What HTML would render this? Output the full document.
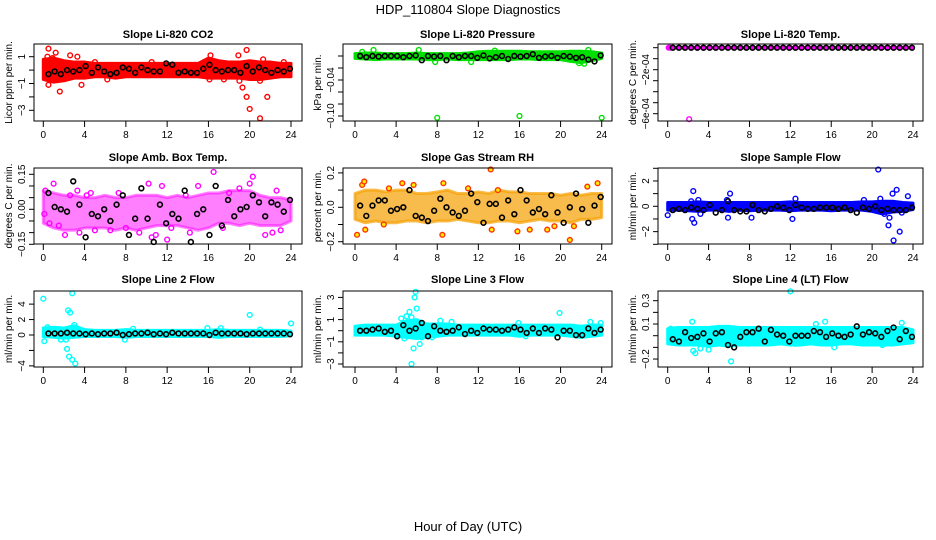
<!DOCTYPE html>
<html><head><meta charset="utf-8"><style>
body{margin:0;background:#fff}
svg{display:block;font-family:"Liberation Sans",sans-serif}
</style></head><body>
<svg id="c" width="936" height="540" xmlns="http://www.w3.org/2000/svg">
<text x="468" y="14" font-size="13" text-anchor="middle">HDP_110804  Slope Diagnostics</text>
<text x="468" y="531" font-size="13" text-anchor="middle">Hour of Day (UTC)</text>
</svg>
<script>
const blkHours=[0.5,1.1,1.7,2.3,2.9,3.5,4.1,4.7,5.3,5.9,6.5,7.1,7.7,8.3,8.9,9.5,10.1,10.7,11.3,11.9,12.5,13.1,13.7,14.3,14.9,15.5,16.1,16.7,17.3,17.9,18.5,19.1,19.7,20.3,20.9,21.5,22.1,22.7,23.3,23.9];
const bandHours=[0,1,2,3,4,5,6,7,8,9,10,11,12,13,14,15,16,17,18,19,20,21,22,23,24];

// Panel 1 CO2
const p1Hi=[0.8,0.9,0.7,0.6,0.6,0.5,0.5,0.5,0.5,0.5,0.5,0.5,0.5,0.5,0.5,0.5,0.9,0.7,0.6,0.6,0.7,0.6,0.6,0.5,0.5];
const p1Lo=[-0.7,-0.9,-0.8,-0.6,-0.6,-0.5,-0.5,-0.6,-0.5,-0.5,-0.5,-0.5,-0.5,-0.5,-0.5,-0.5,-0.6,-0.6,-0.6,-0.6,-0.7,-0.7,-0.6,-0.5,-0.5];
const p1OutX=[0.5,0.4,0.9,1.2,0.5,1.6,2.6,3.3,3.7,6.2,16.2,16.1,18.9,19.7,19.0,19.3,19.7,20.0,21.0,21.7,21.0,21.3,17.5,23.3,5.0,10.5];
const p1OutY=[1.6,1.0,0.9,1.3,-1.1,-1.6,1.1,1.0,-1.1,-0.7,1.1,-0.7,1.1,1.5,-0.8,-1.3,-2.0,-2.9,-3.6,-2.0,-0.8,0.8,-0.7,0.6,0.6,0.6];
const p1Blk=[-0.3,-0.1,-0.3,0.0,-0.1,0.0,0.3,-0.2,0.2,-0.1,-0.3,-0.2,0.2,0.1,-0.2,0.2,0.0,-0.1,-0.1,0.5,0.4,-0.2,-0.1,-0.2,-0.2,0.1,0.4,0.0,-0.1,0.0,0.0,-0.2,0.3,-0.1,0.2,0.0,-0.2,0.0,-0.1,0.1];
// Panel 2 Pressure
const p2Hi=[0.004,0.005,0.005,0.004,0.004,0.004,0.005,0.004,0.004,0.004,0.004,0.005,0.007,0.008,0.008,0.008,0.008,0.007,0.007,0.007,0.007,0.008,0.008,0.007,0.005];
const p2Lo=[-0.004,-0.005,-0.006,-0.005,-0.005,-0.005,-0.005,-0.006,-0.006,-0.005,-0.006,-0.006,-0.006,-0.006,-0.006,-0.006,-0.005,-0.005,-0.006,-0.006,-0.006,-0.009,-0.011,-0.008,-0.004];
const p2OutX=[8,16,24,1.8,6.2,22.7,21.8,22.3,11.3,7.8,0.7,13.6];
const p2OutY=[-0.103,-0.1,-0.103,0.01,0.01,0.01,-0.012,-0.013,-0.01,-0.01,0.007,0.009];
const p2Blk=[0,-0.002,0,-0.001,0,0,0,-0.002,0,0.001,-0.007,0,-0.001,0,-0.007,0,-0.002,0,0,-0.003,0.001,-0.004,-0.002,0,-0.005,0,-0.001,0,0.003,-0.003,-0.001,0,-0.003,0,-0.001,-0.003,-0.002,-0.006,-0.009,0.001];
// Panel 3 Temp
const p3Hi=[0.000003,0.000003,0.000003,0.000003,0.000003,0.000003,0.000003,0.000003,0.000003,0.000003,0.000003,0.000003,0.000003,0.000003,0.000003,0.000003,0.000003,0.000003,0.000003,0.000003,0.000003,0.000003,0.000003,0.000003,0.000003];
const p3Lo=[-0.000003,-0.000003,-0.000003,-0.000003,-0.000003,-0.000003,-0.000003,-0.000003,-0.000003,-0.000003,-0.000003,-0.000003,-0.000003,-0.000003,-0.000003,-0.000003,-0.000003,-0.000003,-0.000003,-0.000003,-0.000003,-0.000003,-0.000003,-0.000003,-0.000003];
const p3OutX=[2.1,0.1,0.2];
const p3OutY=[-0.00065,0,0];
const p3Blk=[0,0,0,0,0,0,0,0,0,0,0,0,0,0,0,0,0,0,0,0,0,0,0,0,0,0,0,0,0,0,0,0,0,0,0,0,0,0,0,0];
// Panel 4 Amb box temp
const p4Hi=[0.08,0.07,0.06,0.06,0.05,0.05,0.06,0.05,0.05,0.06,0.06,0.06,0.05,0.06,0.05,0.06,0.07,0.07,0.08,0.08,0.08,0.06,0.05,0.05,0.04];
const p4Lo=[-0.06,-0.08,-0.09,-0.09,-0.08,-0.08,-0.08,-0.09,-0.08,-0.09,-0.08,-0.07,-0.07,-0.07,-0.08,-0.09,-0.08,-0.06,-0.06,-0.07,-0.06,-0.07,-0.07,-0.07,-0.05];
const p4OutX=[0.2,0.6,1.0,1.5,2.1,3.3,3.5,4.2,5.0,10.2,10.5,10.9,11.5,12.0,12.4,13.8,16.5,18.0,20.3,20.0,21.5,22.2,22.6,23.0,8.0,6.5,15.0,0.1,7.3,9.3,14.2,19.0,17.4,4.6,2.6];
const p4OutY=[0.08,-0.06,0.11,-0.07,-0.11,0.08,-0.10,0.06,-0.09,0.11,-0.12,-0.11,0.1,-0.13,-0.08,0.06,0.16,0.07,0.14,0.11,-0.11,-0.10,0.08,-0.09,-0.08,-0.09,0.1,-0.02,0.07,-0.10,-0.10,0.09,-0.08,0.07,0.06];
const p4Blk=[0.07,0.01,0.0,-0.01,0.12,0.02,-0.12,-0.02,-0.03,0.0,-0.05,0.02,0.06,-0.11,-0.04,0.09,-0.04,-0.14,0.02,-0.06,-0.02,-0.04,0.08,-0.14,-0.02,0.0,-0.11,0.10,-0.07,0.04,-0.03,0.00,0.01,0.06,0.03,-0.03,0.03,0.02,-0.01,0.04];
// Panel 5 RH
const p5Hi=[0.08,0.1,0.1,0.09,0.1,0.1,0.08,0.08,0.09,0.1,0.08,0.08,0.09,0.08,0.1,0.09,0.09,0.08,0.08,0.08,0.07,0.08,0.07,0.08,0.08];
const p5Lo=[-0.07,-0.09,-0.08,-0.09,-0.09,-0.08,-0.08,-0.09,-0.08,-0.08,-0.07,-0.08,-0.09,-0.09,-0.08,-0.08,-0.09,-0.08,-0.07,-0.08,-0.08,-0.09,-0.07,-0.07,-0.06];
const p5OutX=[0.2,0.7,1.0,2.8,4.6,5.7,8.6,8.5,13.2,13.3,15.8,18.7,20.9,21.3,23.6,13.9,22.6,17.0,0.9,3.3,11.0,19.4];
const p5OutY=[-0.16,0.13,-0.13,-0.1,0.14,0.13,0.14,-0.16,0.22,-0.13,-0.14,-0.13,-0.19,-0.11,0.14,0.1,0.12,-0.13,0.15,0.11,0.11,-0.11];
const p5Blk=[0.01,-0.05,0.01,0.04,0.04,-0.02,-0.01,0.0,0.1,-0.05,-0.06,-0.08,-0.02,0.05,0.0,-0.03,-0.05,-0.02,0.08,0.03,-0.09,0.02,0.02,-0.06,0.04,-0.04,0.1,0.04,-0.03,-0.01,-0.04,0.07,-0.03,-0.09,0.0,0.08,-0.01,-0.09,0.01,0.06];
// Panel 6 Sample flow
const p6Hi=[0.3,0.3,0.3,0.35,0.3,0.3,0.3,0.3,0.3,0.3,0.3,0.3,0.35,0.3,0.3,0.3,0.3,0.3,0.3,0.35,0.35,0.4,0.4,0.3,0.25];
const p6Lo=[-0.3,-0.3,-0.35,-0.4,-0.3,-0.3,-0.4,-0.3,-0.35,-0.3,-0.3,-0.3,-0.35,-0.3,-0.3,-0.3,-0.35,-0.3,-0.3,-0.3,-0.4,-0.6,-0.45,-0.4,-0.25];
const p6OutX=[0,2.3,2.5,2.4,2.6,3.0,3.2,5.8,6.1,5.9,8.2,12.2,12.5,19.2,20.6,20.8,21.7,21.6,22.0,22.4,22.1,22.7,23.5,22.9,21.2];
const p6OutY=[-0.7,0.4,1.2,-1.0,-1.3,0.5,-0.6,0.5,1.0,-0.9,-0.9,-1.0,0.6,0.5,2.9,0.6,-0.9,-1.5,1.0,1.3,-2.7,-2.0,0.8,-0.5,-0.6];
const p6Blk=[-0.3,-0.2,-0.3,-0.1,-0.2,-0.3,0.1,-0.5,-0.3,0.4,-0.3,-0.4,-0.4,0.1,-0.3,-0.4,-0.2,0.0,-0.1,-0.3,0.1,-0.1,-0.2,-0.2,-0.1,-0.1,-0.1,-0.2,-0.1,-0.3,-0.5,-0.1,-0.2,0.0,-0.3,-0.2,-0.3,-0.3,-0.3,-0.1];
// Panel 7 Line 2 flow
const p7Hi=[0.9,1.0,0.9,1.2,0.7,0.6,0.6,0.6,0.7,0.6,0.6,0.6,0.6,0.6,0.6,0.6,0.6,0.7,0.6,0.6,0.6,0.6,0.6,0.6,0.5];
const p7Lo=[-0.2,-0.3,-0.4,-0.3,-0.2,-0.2,-0.2,-0.2,-0.3,-0.2,-0.2,-0.2,-0.2,-0.2,-0.2,-0.2,-0.2,-0.3,-0.2,-0.2,-0.2,-0.2,-0.2,-0.2,-0.1];
const p7OutX=[0,0.1,2.4,2.6,2.8,2.3,2.5,2.8,3.1,1.7,2.2,3.0,7.9,8.7,15.9,17.2,20.0,21.0,24.0,0.4];
const p7OutY=[4.7,-0.8,3.2,2.9,5.4,-1.8,-2.8,-3.2,-3.7,-0.6,-0.6,1.3,-0.6,0.8,0.9,0.9,2.6,0.7,1.5,1.0];
const p7Blk=[0.2,0.2,0.2,0.3,0.2,0.2,0.1,0.2,0.1,0.2,0.2,0.3,0.0,0.1,0.2,0.2,0.3,0.1,0.2,0.1,0.3,0.2,0.2,0.2,0.2,0.2,0.0,0.3,0.2,0.2,0.2,0.2,0.1,0.2,0.2,0.2,0.2,0.2,0.2,0.1];
// Panel 8 Line 3 flow
const p8Hi=[0.4,0.5,0.5,0.5,0.5,0.9,1.0,0.6,0.6,0.6,0.5,0.5,0.5,0.5,0.5,0.5,0.5,0.5,0.5,0.5,0.5,0.5,0.4,0.5,0.5];
const p8Lo=[-0.4,-0.4,-0.4,-0.4,-0.5,-0.6,-0.7,-0.6,-0.5,-0.4,-0.4,-0.4,-0.4,-0.4,-0.4,-0.4,-0.5,-0.4,-0.4,-0.4,-0.4,-0.5,-0.6,-0.5,-0.4];
const p8OutX=[4.5,5.0,5.3,5.5,5.9,5.8,6.0,5.7,5.5,6.3,6.5,4.8,8.3,9.4,15.9,16.6,19.9,22.9,23.9,7.5];
const p8OutY=[1.1,1.3,1.7,1.2,3.5,3.0,2.0,-1.6,-3.0,-1.2,-0.6,-0.7,0.9,0.8,0.7,-0.5,1.6,0.8,0.7,-0.6];
const p8Blk=[0,0,0.1,0.2,-0.1,0,-0.5,0.5,0,0.2,0.7,-0.5,0.4,0,-0.1,0,0.3,-0.3,0,-0.2,0.2,0.1,0.1,0,0.1,0.3,0.1,-0.2,0.2,-0.2,0.2,0.1,-0.6,0,0,-0.4,-0.4,0.2,-0.2,0.1];
// Panel 9 Line 4 flow
const p9Hi=[0.06,0.07,0.07,0.07,0.07,0.08,0.08,0.07,0.07,0.07,0.07,0.07,0.07,0.07,0.07,0.07,0.07,0.07,0.07,0.07,0.07,0.07,0.07,0.07,0.05];
const p9Lo=[-0.07,-0.08,-0.08,-0.08,-0.09,-0.08,-0.09,-0.08,-0.08,-0.08,-0.08,-0.07,-0.08,-0.08,-0.07,-0.08,-0.08,-0.07,-0.07,-0.08,-0.08,-0.08,-0.08,-0.07,-0.06];
const p9OutX=[0.3,2.4,2.5,2.7,3.2,4.0,6.2,12.0,12.5,15.4,14.5,16.3,22.9,18.6,21.0];
const p9OutY=[0.06,0.12,-0.13,-0.15,-0.11,-0.12,-0.22,0.38,-0.07,0.12,0.1,-0.1,0.11,-0.06,-0.08];
const p9Blk=[-0.03,-0.05,0.03,-0.02,-0.01,0.02,-0.05,0.02,0.03,-0.08,-0.1,-0.01,0.03,0.03,0.06,-0.05,0.05,0.01,0.0,-0.05,0.0,0.0,0.0,0.04,0.03,-0.01,0.02,0.0,-0.01,0.01,0.08,0.01,0.03,0.02,-0.01,0.04,0.07,-0.03,0.04,-0.01];

const xTicks=[0,4,8,12,16,20,24];
const NS="http://www.w3.org/2000/svg";
const svg=document.getElementById('c');
function el(tag,attrs,parent){const e=document.createElementNS(NS,tag);for(const k in attrs)e.setAttribute(k,attrs[k]);(parent||svg).appendChild(e);return e;}

const cols=[{x0:34,x1:302,h0:43.3,h24:291},{x0:343,x1:612,h0:355,h24:601.7},{x0:658,x1:923,h0:667.7,h24:913}];
const rows=[{y0:44,y1:121,ty:38},{y0:168,y1:244,ty:161},{y0:291,y1:367,ty:283}];

const panels=[
 {name:'co2',title:'Slope Li-820 CO2',ylab:'Licor ppm per min.',col:'#ff0000',r:0,c:0,zero:70.1,ppu:13.4,ticks:[-3,-2,-1,0,1],labels:[['1',1],['-1',-1],['-3',-3]],hi:p1Hi,lo:p1Lo,ox:p1OutX,oy:p1OutY,blk:p1Blk},
 {name:'pressure',title:'Slope Li-820 Pressure',ylab:'kPa per min.',col:'#00e000',r:0,c:1,zero:56,ppu:600,ticks:[0,-0.02,-0.04,-0.06,-0.08,-0.10],labels:[['-0.04',-0.04],['-0.10',-0.10]],hi:p2Hi,lo:p2Lo,ox:p2OutX,oy:p2OutY,blk:p2Blk},
 {name:'temp',title:'Slope Li-820 Temp.',ylab:'degrees C per min.',col:'#ff00ff',r:0,c:2,zero:47.7,ppu:110000,ticks:[0,-1e-4,-2e-4,-3e-4,-4e-4,-5e-4,-6e-4],labels:[['-2e-04',-2e-4],['-6e-04',-6e-4]],hi:p3Hi,lo:p3Lo,ox:p3OutX,oy:p3OutY,blk:p3Blk},
 {name:'amb-box-temp',title:'Slope Amb. Box Temp.',ylab:'degrees C per min.',col:'#ff00ff',r:1,c:0,zero:209.3,ppu:233.3,ticks:[-0.15,-0.1,-0.05,0,0.05,0.1,0.15],labels:[['0.15',0.15],['0.00',0],['-0.15',-0.15]],hi:p4Hi,lo:p4Lo,ox:p4OutX,oy:p4OutY,blk:p4Blk,op:0.5},
 {name:'gas-stream-rh',title:'Slope Gas Stream RH',ylab:'percent per min.',col:'#f5a000',r:1,c:1,zero:207.3,ppu:172,ticks:[-0.2,-0.1,0,0.1,0.2],labels:[['0.2',0.2],['0.0',0],['-0.2',-0.2]],hi:p5Hi,lo:p5Lo,ox:p5OutX,oy:p5OutY,blk:p5Blk,ocol:'#ff3300',op:0.7},
 {name:'sample-flow',title:'Slope Sample Flow',ylab:'ml/min per min.',col:'#0000ff',r:1,c:2,zero:206.3,ppu:12.67,ticks:[-3,-2,-1,0,1,2,3],labels:[['2',2],['0',0],['-2',-2]],hi:p6Hi,lo:p6Lo,ox:p6OutX,oy:p6OutY,blk:p6Blk},
 {name:'line2-flow',title:'Slope Line 2 Flow',ylab:'ml/min per min.',col:'#00ffff',r:2,c:0,zero:335,ppu:7.72,ticks:[-4,-2,0,2,4],labels:[['4',4],['2',2],['0',0],['-4',-4]],hi:p7Hi,lo:p7Lo,ox:p7OutX,oy:p7OutY,blk:p7Blk},
 {name:'line3-flow',title:'Slope Line 3 Flow',ylab:'ml/min per min.',col:'#00ffff',r:2,c:1,zero:330.7,ppu:11.1,ticks:[-3,-2,-1,0,1,2,3],labels:[['3',3],['1',1],['-1',-1],['-3',-3]],hi:p8Hi,lo:p8Lo,ox:p8OutX,oy:p8OutY,blk:p8Blk},
 {name:'line4-flow',title:'Slope Line 4 (LT) Flow',ylab:'ml/min per min.',col:'#00ffff',r:2,c:2,zero:335.7,ppu:116.7,ticks:[-0.2,-0.1,0,0.1,0.2,0.3],labels:[['0.3',0.3],['0.1',0.1],['-0.2',-0.2]],hi:p9Hi,lo:p9Lo,ox:p9OutX,oy:p9OutY,blk:p9Blk}
];

panels.forEach(p=>{
 const C=cols[p.c],R=rows[p.r];
 const xs=h=>C.h0+(C.h24-C.h0)*h/24;
 const ys=v=>p.zero-p.ppu*v;
 const g=el('g',{});
 
 
 const t=el('text',{x:(C.x0+C.x1)/2,y:R.ty,'font-size':11,'font-weight':'bold','text-anchor':'middle'},g);
 t.textContent=p.title;
 
 
 let pts=bandHours.map((h,i)=>xs(h)+','+ys(p.hi[i]));
 pts=pts.concat(bandHours.slice().reverse().map((h,i)=>xs(h)+','+ys(p.lo[p.lo.length-1-i])));
 const band=el('polygon',{points:pts.join(' '),fill:p.col,stroke:p.col,'stroke-width':3,'stroke-linejoin':'round','fill-opacity':p.op||1,'stroke-opacity':p.op||1},g);
 
 
 p.ox.forEach((h,i)=>{
  const c=el('circle',{cx:xs(h),cy:ys(p.oy[i]),r:2.4,fill:p.ocol?'#ffee00':'none',stroke:p.ocol||p.col,'stroke-width':1.4},g);
  
  
 });
 blkHours.forEach((h,i)=>{
  const c=el('circle',{cx:xs(h),cy:ys(p.blk[i]),r:2.4,fill:'none',stroke:'#000','stroke-width':1.6},g);
  
  
 });
 const box=el('rect',{x:C.x0,y:R.y0,width:C.x1-C.x0,height:R.y1-R.y0,fill:'none',stroke:'#000','stroke-width':1},g);
 
 
 xTicks.forEach(h=>{
  el('line',{x1:xs(h),x2:xs(h),y1:R.y1,y2:R.y1+6,stroke:'#000'},g);
  const tl=el('text',{x:xs(h),y:R.y1+17,'font-size':10,'text-anchor':'middle'},g);
  tl.textContent=h;
  
  
 });
 p.ticks.forEach(v=>{el('line',{x1:C.x0-5,x2:C.x0,y1:ys(v),y2:ys(v),stroke:'#000'},g);});
 p.labels.forEach(([s,v])=>{
  const yy=ys(v);
  const tl=el('text',{x:C.x0-9,y:yy,'font-size':10,'text-anchor':'middle',transform:`rotate(-90 ${C.x0-9} ${yy})`},g);
  tl.textContent=s.replace('-','\u2212');
  
  
 });
 const cy=(R.y0+R.y1)/2;
 const yl=el('text',{x:C.x0-22,y:cy,'font-size':10,'text-anchor':'middle',transform:`rotate(-90 ${C.x0-22} ${cy})`},g);
 yl.textContent=p.ylab;
 
 
});
</script>
</body></html>
